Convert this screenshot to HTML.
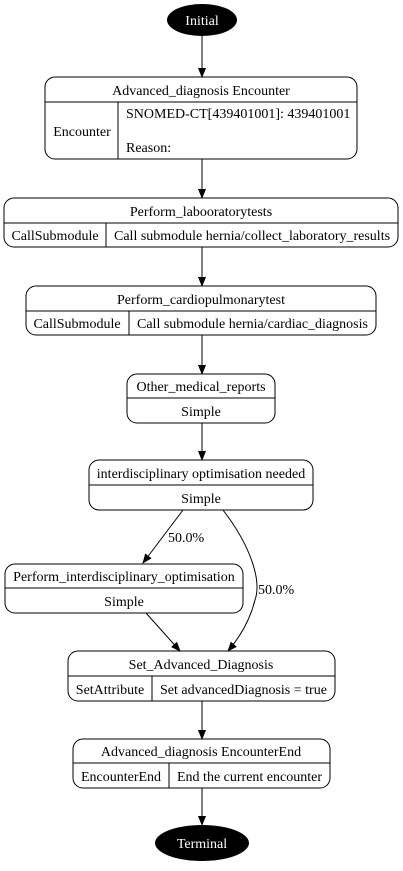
<!DOCTYPE html>
<html><head><style>
html,body{margin:0;padding:0;background:#fff;}
svg, svg text{font-family:"Liberation Serif","Times New Roman",serif;font-size:14px;}
</style></head><body>
<svg width="403" height="866" viewBox="0 0 403 866" xmlns="http://www.w3.org/2000/svg" font-family="Liberation Serif, serif" font-size="14">
<defs><marker id="a" markerWidth="10" markerHeight="10" refX="9" refY="5" orient="auto" markerUnits="userSpaceOnUse"><path d="M0,1 L10,5 L0,9 z" fill="#000"/></marker></defs>
<g fill="none" stroke="#000" stroke-width="1">
<line x1="202" y1="36" x2="202" y2="77" marker-end="url(#a)"/>
<line x1="202" y1="159" x2="202" y2="198" marker-end="url(#a)"/>
<line x1="202" y1="247" x2="202" y2="286" marker-end="url(#a)"/>
<line x1="202" y1="335" x2="202" y2="374" marker-end="url(#a)"/>
<line x1="202" y1="423" x2="202" y2="460" marker-end="url(#a)"/>
<line x1="183" y1="510" x2="143" y2="563" marker-end="url(#a)"/>
<path d="M223,510 C250,545 262,580 255,600 C250,620 240,637 228,651" marker-end="url(#a)"/>
<line x1="146" y1="613" x2="180" y2="651" marker-end="url(#a)"/>
<line x1="202" y1="701" x2="202" y2="739" marker-end="url(#a)"/>
<line x1="202" y1="788" x2="202" y2="825" marker-end="url(#a)"/>

<rect x="45" y="77" width="312" height="82" rx="10"/>
<line x1="45" y1="102" x2="357" y2="102"/><line x1="118" y1="102" x2="118" y2="159"/>
<rect x="4" y="198" width="394" height="49" rx="10"/>
<line x1="4" y1="223" x2="398" y2="223"/><line x1="106" y1="223" x2="106" y2="247"/>
<rect x="26" y="286" width="350" height="49" rx="10"/>
<line x1="26" y1="311" x2="376" y2="311"/><line x1="129" y1="311" x2="129" y2="335"/>
<rect x="127" y="374" width="148" height="49" rx="10"/>
<line x1="127" y1="398" x2="275" y2="398"/>
<rect x="89" y="460" width="224" height="50" rx="10"/>
<line x1="89" y1="485" x2="313" y2="485"/>
<rect x="5" y="564" width="238" height="49" rx="10"/>
<line x1="5" y1="588" x2="243" y2="588"/>
<rect x="68" y="651" width="267" height="50" rx="10"/>
<line x1="68" y1="676" x2="335" y2="676"/><line x1="152" y1="676" x2="152" y2="701"/>
<rect x="73" y="739" width="257" height="49" rx="10"/>
<line x1="73" y1="763" x2="330" y2="763"/><line x1="169" y1="763" x2="169" y2="788"/>
</g>
<ellipse cx="202" cy="20" rx="35" ry="16" fill="#000"/>
<ellipse cx="202" cy="843" rx="47" ry="18" fill="#000"/>
<text x="202" y="25" text-anchor="middle" fill="#fff">Initial</text>
<text x="202" y="848" text-anchor="middle" fill="#fff">Terminal</text>
<g text-anchor="middle" fill="#000">
<text x="201" y="95">Advanced_diagnosis Encounter</text>
<text x="82" y="136">Encounter</text>
<text x="201" y="216">Perform_labooratorytests</text>
<text x="55" y="240">CallSubmodule</text>
<text x="201" y="304">Perform_cardiopulmonarytest</text>
<text x="77" y="328">CallSubmodule</text>
<text x="201" y="391">Other_medical_reports</text>
<text x="201" y="416">Simple</text>
<text x="201" y="478">interdisciplinary optimisation needed</text>
<text x="201" y="503">Simple</text>
<text x="124" y="581">Perform_interdisciplinary_optimisation</text>
<text x="124" y="606">Simple</text>
<text x="201" y="669">Set_Advanced_Diagnosis</text>
<text x="110" y="694">SetAttribute</text>
<text x="201" y="756">Advanced_diagnosis EncounterEnd</text>
<text x="121" y="781">EncounterEnd</text>
</g>
<g fill="#000">
<text x="126" y="118">SNOMED-CT[439401001]: 439401001</text>
<text x="126" y="152">Reason:</text>
<text x="114" y="240">Call submodule hernia/collect_laboratory_results</text>
<text x="137" y="328">Call submodule hernia/cardiac_diagnosis</text>
<text x="160" y="694">Set advancedDiagnosis = true</text>
<text x="177" y="781">End the current encounter</text>
<text x="168" y="542">50.0%</text>
<text x="258" y="594">50.0%</text>
</g>
</svg>
</body></html>
